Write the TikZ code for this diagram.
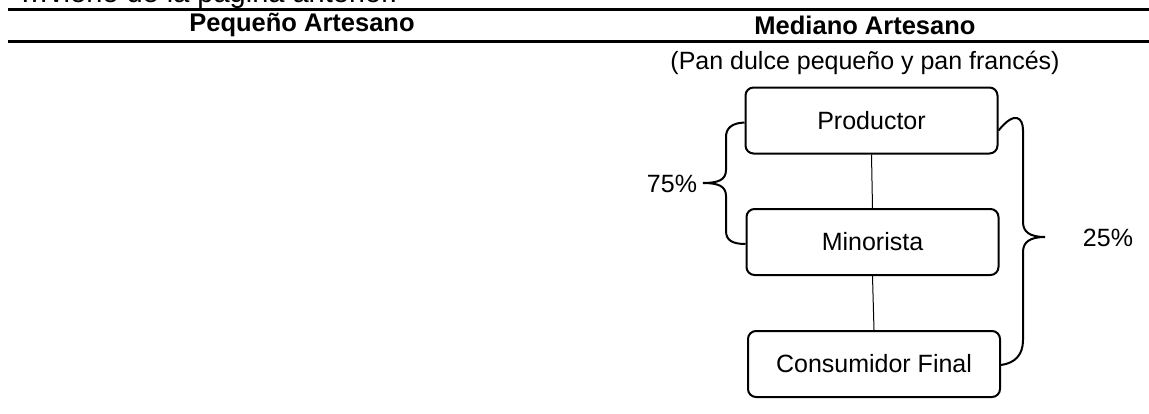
\documentclass[tikz,border=0pt]{standalone}
\usepackage{fontspec}
\setmainfont{Liberation Sans}
\begin{document}
\begin{tikzpicture}[x=1pt,y=-1pt,
  txt/.style={font=\fontsize{25}{30}\selectfont, inner sep=0pt},
  hdr/.style={font=\fontsize{25.5}{30}\selectfont\bfseries, inner sep=0pt},
  stage/.style={draw, line width=2pt, rounded corners=8pt, minimum width=252pt, minimum height=66pt, inner sep=0pt, font=\fontsize{25}{30}\selectfont},
  link/.style={line width=1pt},
  brace/.style={line width=2pt},
  rule/.style={line width=3pt}]
\useasboundingbox (0,0) rectangle (1149,413);
\clip (0,0) rectangle (1149,413);
\node[anchor=base west, inner sep=0pt, font=\fontsize{29}{34}\selectfont] (cont) at (20,2.5) {…viene de la página anterior.};
\draw[rule] (8,9.5) -- (1149,9.5);
\draw[rule] (8,41) -- (1149,41);
\node[hdr] (h1) at (302,25) {Pequeño Artesano};
\node[hdr] (h2) at (865,25) {Mediano Artesano};
\node[txt] (sub) at (865,63) {(Pan dulce pequeño y pan francés)};
\node[stage] (prod) at (871.5,120.5) {Productor};
\node[stage] (mino) at (872.5,242) {Minorista};
\node[stage] (cons) at (874,364) {Consumidor Final};
\draw[link] (prod.south) -- (mino.north);
\draw[link] (mino.south) -- (cons.north);
\node[txt] (p75) at (672,184) {75\%};
\node[txt] (p25) at (1108,238) {25\%};
% left brace
\coordinate (lt) at ([yshift=-2pt]prod.west);
\coordinate (lb) at ([yshift=-2pt]mino.west);
\coordinate (ltip) at (703,183);
\draw[brace] (lt) .. controls (732,123) and (726,128) .. (726,137)
  -- (726,170) .. controls (726,180) and (718,183) .. (ltip)
  .. controls (718,183) and (726,186) .. (726,196)
  -- (726,231) .. controls (726,240) and (732,244) .. (lb);
% right brace
\coordinate (rt) at ([yshift=-10pt]prod.east);
\coordinate (rb) at ([yshift=-1pt]cons.east);
\coordinate (rtip) at (1045,237);
\draw[brace] (rt) .. controls (1015,110) and (1023,118) .. (1023,130)
  -- (1023,222) .. controls (1023,232) and (1030,237) .. (rtip)
  .. controls (1030,237) and (1023,242) .. (1023,252)
  -- (1023,340) .. controls (1023,355) and (1015,363) .. (rb);
\end{tikzpicture}
\end{document}
